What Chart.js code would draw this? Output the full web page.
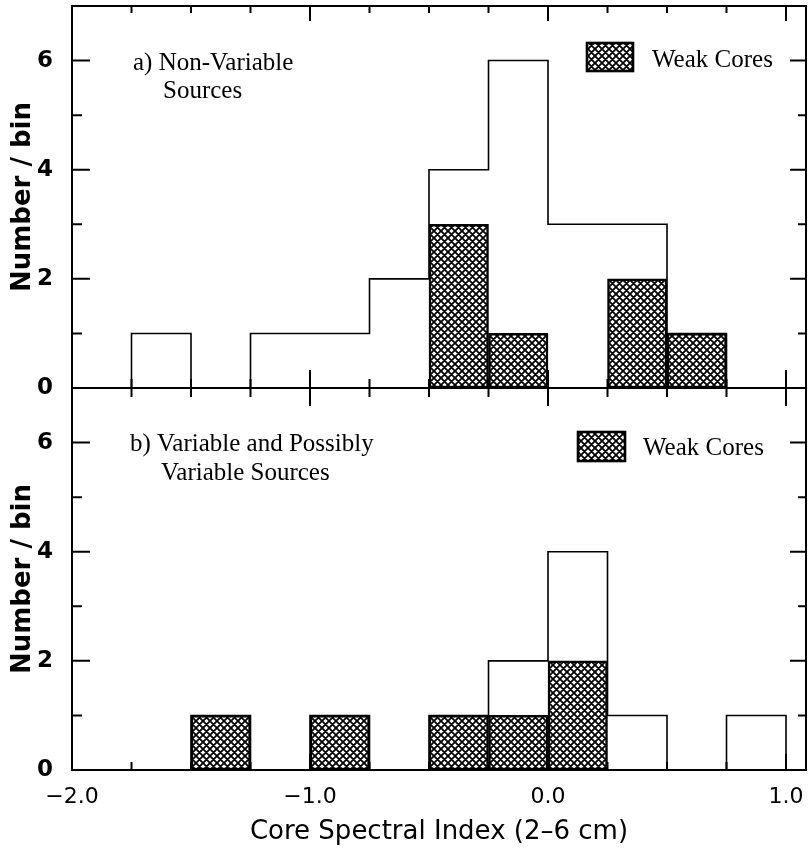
<!DOCTYPE html>
<html>
<head>
<meta charset="utf-8">
<title>Core spectral index histograms</title>
<script src="https://cdn.jsdelivr.net/npm/chart.js@4.4.1/dist/chart.umd.min.js"></script>
<style>
  body { margin: 0; background: #fff; }
  #wrap { position: relative; width: 808px; height: 867px; }
  canvas { position: absolute; left: 0; top: 0; }
</style>
</head>
<body>
<div id="wrap">
  <canvas id="panelA" width="808" height="867"></canvas>
  <canvas id="panelB" width="808" height="867"></canvas>
</div>
<script>
// histogram bins of the core spectral index, width 0.25
const binEdges = [-2.0, -1.75, -1.5, -1.25, -1.0, -0.75, -0.5, -0.25, 0.0, 0.25, 0.5, 0.75, 1.0];

// a) non-variable sources: all of them, and the weak cores among them
const nonVarAll  = [0, 1, 0, 1, 1, 2, 4, 6, 3, 3, 1, 0];
const nonVarWeak = [0, 0, 0, 0, 0, 0, 3, 1, 0, 2, 1, 0];

// b) variable and possibly variable sources
const varAll  = [0, 0, 1, 0, 1, 0, 1, 2, 4, 1, 0, 1];
const varWeak = [0, 0, 1, 0, 1, 0, 1, 1, 2, 0, 0, 0];

const xTickValues = [-2, -1, 0, 1];
const yTickValues = [0, 2, 4, 6];
const yMinorValues = [1, 3, 5];

const xLabel = 'Core Spectral Index (2\u20136 cm)';
const yLabel = 'Number / bin';
const legendLabel = 'Weak Cores';
const panelTextA = ['a) Non-Variable', 'Sources'];
const panelTextB = ['b) Variable and Possibly', 'Variable Sources'];

const X_MIN = -2.0;
const X_MAX = 1.084;
const Y_MAX = 7;

Chart.defaults.font.family = '"DejaVu Sans", sans-serif';
Chart.defaults.color = '#000';

function hatchPattern(ctx) {
  const s = 7;
  const tile = document.createElement('canvas');
  tile.width = s;
  tile.height = s;
  const t = tile.getContext('2d');
  t.fillStyle = '#fff';
  t.fillRect(0, 0, s, s);
  t.strokeStyle = '#000';
  t.lineWidth = 1.8;
  t.beginPath();
  for (const k of [-s, 0, s]) {
    t.moveTo(k, 0); t.lineTo(k + s, s);
  }
  for (const m of [0, s, 2 * s]) {
    t.moveTo(m, 0); t.lineTo(m - s, s);
  }
  t.stroke();
  return ctx.createPattern(tile, 'repeat');
}

// step outline of the full sample, closed down to zero at both ends
function outlinePoints(counts) {
  const pts = [{x: binEdges[0], y: 0}];
  counts.forEach((c, i) => {
    pts.push({x: binEdges[i], y: c}, {x: binEdges[i + 1], y: c});
  });
  pts.push({x: binEdges[binEdges.length - 1], y: 0});
  return pts;
}

function barPoints(counts) {
  return counts.map((c, i) => ({x: (binEdges[i] + binEdges[i + 1]) / 2, y: c > 0 ? c : null}));
}

const panelDecor = {
  id: 'panelDecor',
  afterDatasetsDraw(chart, args, o) {
    const {ctx, chartArea: a} = chart;
    const x = chart.scales.x;
    const y = chart.scales.y;
    ctx.save();
    ctx.strokeStyle = '#000';
    ctx.lineWidth = 2;
    ctx.strokeRect(a.left, a.top, a.right - a.left, a.bottom - a.top);

    ctx.beginPath();
    binEdges.forEach(v => {
      const px = x.getPixelForValue(v);
      const k = xTickValues.includes(v) ? 0 : 1;
      ctx.moveTo(px, a.top); ctx.lineTo(px, a.top + o.topTick[k]);
      ctx.moveTo(px, a.bottom); ctx.lineTo(px, a.bottom - o.bottomTick[k]);
    });
    yTickValues.concat(yMinorValues).forEach(v => {
      const py = y.getPixelForValue(v);
      const k = yTickValues.includes(v) ? 0 : 1;
      ctx.moveTo(a.left, py); ctx.lineTo(a.left + [18, 10][k], py);
      ctx.moveTo(a.right, py); ctx.lineTo(a.right - [16, 8][k], py);
    });
    ctx.stroke();

    // panel caption
    ctx.fillStyle = '#000';
    ctx.font = '25px "Liberation Serif", serif';
    ctx.textBaseline = 'alphabetic';
    ctx.textAlign = 'left';
    o.text.forEach((line, i) => {
      ctx.fillText(line, o.textPos[i][0], o.textPos[i][1]);
    });

    // legend
    const [bx, by, bw, bh] = o.legendBox;
    ctx.fillStyle = chart.data.datasets[0].backgroundColor;
    ctx.fillRect(bx, by, bw, bh);
    ctx.lineWidth = 2.6;
    ctx.strokeRect(bx, by, bw, bh);
    ctx.fillStyle = '#000';
    ctx.fillText(legendLabel, o.legendText[0], o.legendText[1]);
    ctx.restore();
  }
};

function makePanel(id, allCounts, weakCounts, decor, showX) {
  const ctx = document.getElementById(id).getContext('2d');
  const hatch = hatchPattern(ctx);
  return new Chart(ctx, {
    type: 'bar',
    data: {
      datasets: [
        {
          type: 'bar',
          label: legendLabel,
          data: barPoints(weakCounts),
          backgroundColor: hatch,
          borderColor: '#000',
          borderWidth: 2.5,
          borderSkipped: false,
          barPercentage: 1,
          categoryPercentage: 1,
          order: 0
        },
        {
          type: 'line',
          label: 'All sources',
          data: outlinePoints(allCounts),
          borderColor: '#000',
          borderWidth: 1.6,
          pointRadius: 0,
          fill: false,
          tension: 0,
          order: 1
        }
      ]
    },
    options: {
      responsive: false,
      animation: false,
      layout: {
        padding: showX ? {top: 388, right: 2, left: 0, bottom: 0}
                       : {top: 6, right: 2, left: 0, bottom: 479}
      },
      scales: {
        x: {
          type: 'linear',
          min: X_MIN,
          max: X_MAX,
          offset: false,
          display: showX,
          grid: {display: false, drawTicks: false},
          border: {display: false},
          afterBuildTicks: s => { s.ticks = xTickValues.map(v => ({value: v})); },
          afterFit: s => {
            s.height = showX ? 97 : 0;
            s.paddingLeft = 0;
            s.paddingRight = 0;
          },
          ticks: {
            font: {size: 22},
            color: '#000',
            padding: 14,
            maxRotation: 0,
            autoSkip: false,
            callback: v => (v < 0 ? '\u2212' : '') + Math.abs(v).toFixed(1)
          },
          title: {
            display: true,
            text: xLabel,
            font: {size: 26},
            color: '#000',
            padding: {top: 0, bottom: 19}
          }
        },
        y: {
          min: 0,
          max: Y_MAX,
          grid: {display: false, drawTicks: false},
          border: {display: false},
          afterBuildTicks: s => { s.ticks = yTickValues.map(v => ({value: v})); },
          afterFit: s => {
            s.width = 72;
            s.paddingTop = 0;
            s.paddingBottom = 0;
          },
          ticks: {
            font: {size: 23, weight: 'bold'},
            color: '#000',
            padding: 19
          },
          title: {
            display: true,
            text: yLabel,
            font: {size: 26, weight: 'bold'},
            color: '#000',
            padding: {top: 8, bottom: 0}
          }
        }
      },
      plugins: {
        legend: {display: false},
        tooltip: {enabled: false},
        panelDecor: decor
      }
    },
    plugins: [panelDecor]
  });
}

makePanel('panelA', nonVarAll, nonVarWeak, {
  topTick: [15, 7],
  bottomTick: [18, 9],
  text: panelTextA,
  textPos: [[133, 70], [163, 98]],
  legendBox: [587, 43, 46, 28],
  legendText: [652, 67]
}, false);

makePanel('panelB', varAll, varWeak, {
  topTick: [18, 9],
  bottomTick: [16, 8],
  text: panelTextB,
  textPos: [[130, 451], [161, 480]],
  legendBox: [578, 432, 47, 29],
  legendText: [643, 455]
}, true);
</script>
</body>
</html>
